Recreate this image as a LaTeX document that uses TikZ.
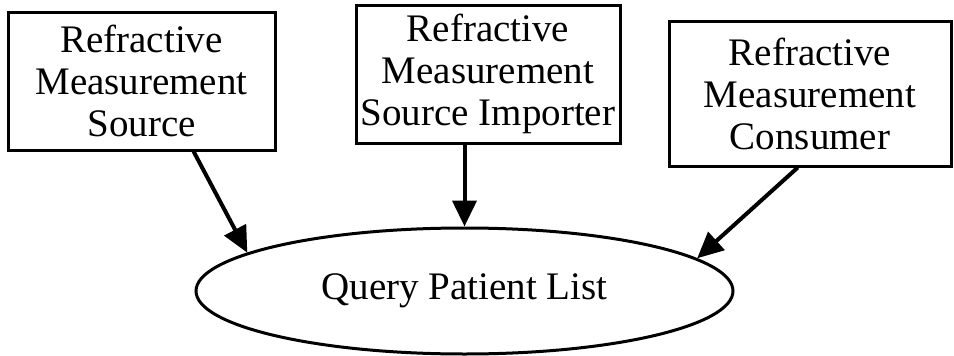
\documentclass[tikz,border=0pt]{standalone}
\usepackage{fontspec}
\setmainfont{Liberation Serif}
\usetikzlibrary{arrows.meta,shapes.geometric,calc}
\begin{document}
\begin{tikzpicture}[x=1pt,y=-1pt,
  txt/.style={font=\fontsize{39}{42}\selectfont, align=center, inner sep=0pt},
  actor/.style={txt, draw, line width=3pt, rectangle},
  usecase/.style={txt, draw, line width=3pt, ellipse},
  conn/.style={line width=4pt, -{Triangle[length=26pt,width=24pt]}}]
\useasboundingbox (0,0) rectangle (954,356);
\node[actor, minimum width=267pt, minimum height=138pt] (b1) at (141.5,81) {Refractive\\Measurement\\Source};
\node[actor, minimum width=264pt, minimum height=138pt] (b2) at (488,74) {Refractive\\Measurement\\Source Importer};
\node[actor, minimum width=282pt, minimum height=145pt] (b3) at (810,93.5) {Refractive\\Measurement\\Consumer};
\node[usecase, minimum width=537pt, minimum height=126pt] (q) at (464.5,291) {Query Patient List};
\draw[conn] ($(b1.south west)!0.693!(b1.south east)$) -- (q.170);
\draw[conn] (b2.south -| q.north) -- (q.north);
\draw[conn] ($(b3.south west)!0.457!(b3.south east)$) -- (q.8.5);
\end{tikzpicture}
\end{document}
